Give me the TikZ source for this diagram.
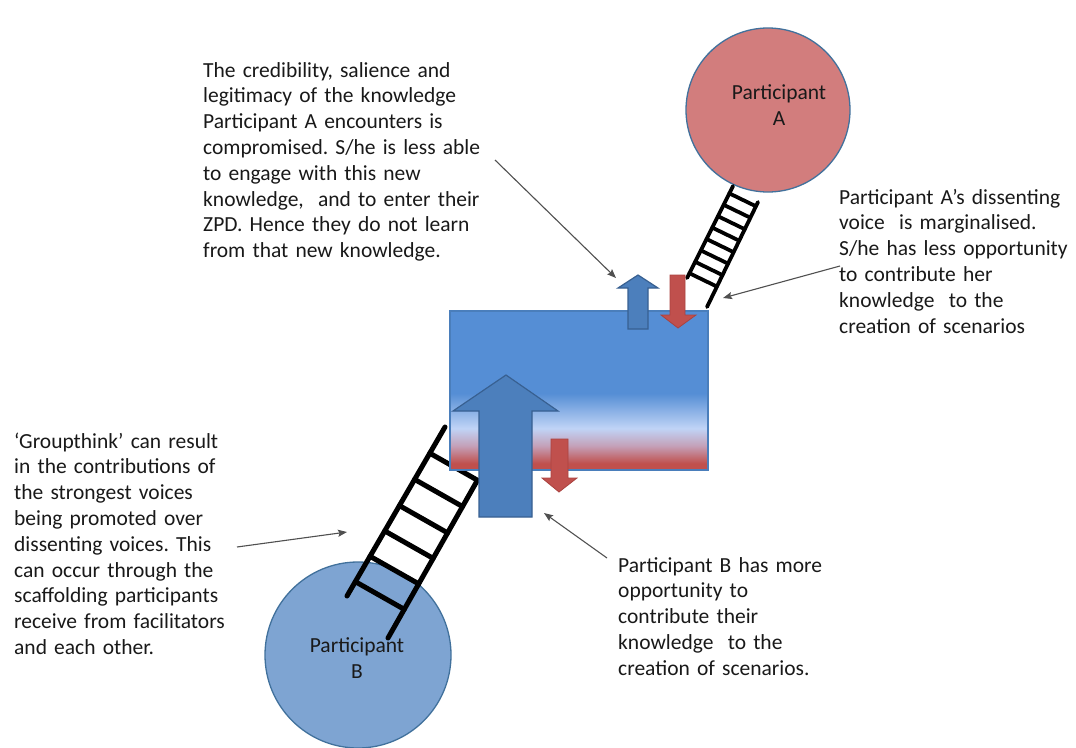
\documentclass[tikz,border=0pt]{standalone}
\usepackage{fontspec}
\setmainfont{Carlito}
\frenchspacing
\usetikzlibrary{arrows.meta,calc}
\definecolor{shblue}{RGB}{85,142,213}
\definecolor{shlight}{RGB}{192,212,246}
\definecolor{shpink}{RGB}{196,160,184}
\definecolor{shred}{RGB}{192,80,77}
\definecolor{boxedge}{RGB}{74,126,187}
\definecolor{circA}{RGB}{210,125,125}
\definecolor{circB}{RGB}{126,164,210}
\definecolor{circedge}{RGB}{65,113,156}
\definecolor{arrblue}{RGB}{76,127,188}
\definecolor{arrblueedge}{RGB}{56,96,145}
\definecolor{arrred}{RGB}{192,80,77}
\definecolor{arrrededge}{RGB}{170,66,63}
\definecolor{conncol}{RGB}{80,80,80}
\definecolor{txtcol}{RGB}{25,25,25}
\pgfdeclareverticalshading{boxshade}{100bp}{color(0bp)=(shred); color(27bp)=(shred); color(32.5bp)=(shpink); color(38bp)=(shlight); color(49bp)=(shblue); color(100bp)=(shblue)}
\tikzset{
  pcircle/.style={circle, draw=circedge, line width=1.3pt, inner sep=0},
  ctext/.style={anchor=base, text width=140pt, align=center, inner sep=0, font=\fontsize{21.5}{26}\selectfont, text=txtcol},
  txt/.style={anchor=base west, text width=330pt, align=left, inner sep=0, font=\fontsize{21.5}{25.8}\selectfont, text=txtcol},
  railB/.style={line width=5pt, line cap=round, black},
  railA/.style={line width=3.8pt, line cap=round, black},
  upblue/.style={fill=arrblue, draw=arrblueedge, line width=1.2pt, line join=miter},
  downred/.style={fill=arrred, draw=arrrededge, line width=0.8pt, line join=miter},
  conn/.style={draw=conncol, line width=1.1pt, -{Stealth[length=9pt,width=7pt,inset=1.5pt]}}
}
\begin{document}
\begin{tikzpicture}[x=1pt,y=-1pt]
\fill[white] (0,0) rectangle (1076,747);
\useasboundingbox (0,0) rectangle (1076,747);

% circles
\node[pcircle, fill=circA, minimum size=164pt] (A) at (768,110) {};
\node[pcircle, fill=circB, minimum size=186pt] (B) at (358,655) {};
\node[ctext] (Atxt) at (779,99) {Participant\\A};
\node[ctext] (Btxt) at (357,652) {Participant\\B};

% ladder B
\coordinate (LB0) at (347,596);
\coordinate (LB1) at (445,427);
\coordinate (RB0) at (388,638);
\coordinate (RB1) at (477,481);
\draw[railB] (LB0) -- (LB1);
\draw[railB] (RB0) -- (RB1);
\foreach \t in {0.155,0.31,0.465,0.615,0.765,0.915}{
  \path ($(LB1)!\t!(LB0)$) coordinate (p);
  \draw[railB] (p) -- ($(RB1)!(p)!(RB0)$);
}

% ladder A
\coordinate (LA0) at (687,278);
\coordinate (LA1) at (733,186);
\coordinate (RA0) at (707,307);
\coordinate (RA1) at (758,202);
\draw[railA] (LA0) -- (LA1);
\draw[railA] (RA0) -- (RA1);
\foreach \t in {0.08,0.204,0.328,0.452,0.576,0.70,0.824,0.948}{
  \path ($(LA1)!\t!(LA0)$) coordinate (q);
  \draw[railA] (q) -- ($(RA1)!(q)!(RA0)$);
}

% box
\node[draw=boxedge, line width=1.5pt, shade, shading=boxshade, minimum width=258pt, minimum height=159pt, inner sep=0, anchor=north west] (box) at (449,310) {};

% arrows
\draw[upblue] (479,517) -- (479,411) -- (453,411) -- (506,375) -- (558,411) -- (532,411) -- (532,517) -- cycle;
\draw[upblue] (628,329) -- (628,288) -- (618,288) -- (638,275) -- (658,288) -- (648,288) -- (648,329) -- cycle;
\draw[downred] (670,275) -- (670,315) -- (661,315) -- (678,328) -- (696,315) -- (685,315) -- (685,275) -- cycle;
\draw[downred] (551,439) -- (551,478) -- (542,478) -- (559,492) -- (577,478) -- (568,478) -- (568,439) -- cycle;

% texts
\node[txt] (T1) at (203,77) {The credibility, salience and\\legitimacy of the knowledge\\Participant A encounters is\\compromised. S/he is less able\\to engage with this new\\knowledge,\ \ and to enter their\\ZPD. Hence they do not learn\\from that new knowledge.};
\node[txt] (T2) at (839,204) {Participant A’s dissenting\\voice\ \ is marginalised.\\S/he has less opportunity\\to contribute her\\knowledge\ \ to the\\creation of scenarios};
\node[txt] (T3) at (14,448) {‘Groupthink’ can result\\in the contributions of\\the strongest voices\\being promoted over\\dissenting voices. This\\can occur through the\\scaffolding participants\\receive from facilitators\\and each other.};
\node[txt] (T4) at (618,572) {Participant B has more\\opportunity to\\contribute their\\knowledge\ \ to the\\creation of scenarios.};

% connectors
\coordinate (c1s) at (495,160); \coordinate (c1e) at (616,278);
\coordinate (c2s) at (840,266); \coordinate (c2e) at (723,298);
\coordinate (c3s) at (237,547); \coordinate (c3e) at (347,532);
\coordinate (c4s) at (607,558); \coordinate (c4e) at (544,513);
\draw[conn] (c1s) -- (c1e);
\draw[conn] (c2s) -- (c2e);
\draw[conn] (c3s) -- (c3e);
\draw[conn] (c4s) -- (c4e);
\end{tikzpicture}
\end{document}
